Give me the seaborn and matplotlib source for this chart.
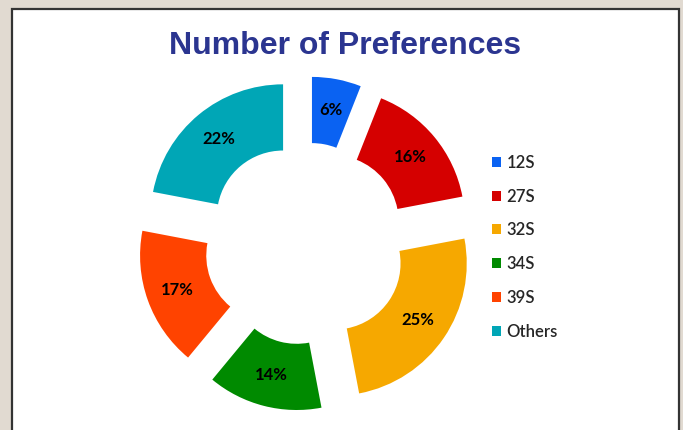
import matplotlib
matplotlib.use("Agg")
import matplotlib.pyplot as plt
import seaborn as sns
from matplotlib.patches import Rectangle

sns.set_theme(style="white")
plt.rcParams['font.family'] = ['Lato', 'DejaVu Sans']

categories = ["12S", "27S", "32S", "34S", "39S", "Others"]
values = [6, 16, 25, 14, 17, 22]
colors = ["#0a62f2", "#d50000", "#f6a800", "#008a00", "#ff4300", "#00a6b6"]
title = "Number of Preferences"

W, H = 683, 430
fig = plt.figure(figsize=(W / 100, H / 100), dpi=100)
fig.patch.set_facecolor("#e1dad1")

# white framed panel
fig.patches.append(Rectangle((12 / W, -0.05), (679 - 12) / W, 1.05 - 8.5 / H,
                             transform=fig.transFigure, facecolor="white",
                             edgecolor="#333333", linewidth=1.6, zorder=-5))

# gray chart area, pixel box x 131..562, y 70..416 (from top)
px0, px1, py0, py1 = 131, 562, 70, 416
ax = fig.add_axes([px0 / W, 1 - py1 / H, (px1 - px0) / W, (py1 - py0) / H])
ax.set_zorder(1)
ax.set_facecolor("#f7f7f7")

R = 132.4
cx, cy = 305.4, 243.7
explode = [35 / R] * len(values)

wedges, texts, autotexts = ax.pie(
    values, colors=colors, startangle=90, counterclock=False,
    explode=explode, radius=1.0, autopct="%d%%", pctdistance=0.76,
    wedgeprops=dict(width=0.5, edgecolor="none"),
    textprops=dict(fontsize=12, fontweight="bold", color="black"))

ax.set_aspect("auto")
ax.set_xlim(-(cx - px0) / R, (px1 - cx) / R)
ax.set_ylim(-(py1 - cy) / R, (cy - py0) / R)
for s in ax.spines.values():
    s.set_visible(False)
ax.set_xticks([])
ax.set_yticks([])

leg = fig.legend(wedges, categories, loc="upper left",
                 bbox_to_anchor=(485 / W, 1 - 148 / H), frameon=False,
                 fontsize=12, handlelength=0.55, handleheight=0.55,
                 handletextpad=0.35, labelspacing=1.07, borderaxespad=0)
leg.set_zorder(2)
for t in leg.get_texts():
    t.set_fontweight("semibold")

fig.text(345 / W, 1 - 46 / H, title, ha="center", va="center",
         fontsize=23, fontweight="bold", color="#2b3590",
         family=["Liberation Sans", "DejaVu Sans"], zorder=2)

fig.savefig("out.png", dpi=100, facecolor=fig.get_facecolor())
